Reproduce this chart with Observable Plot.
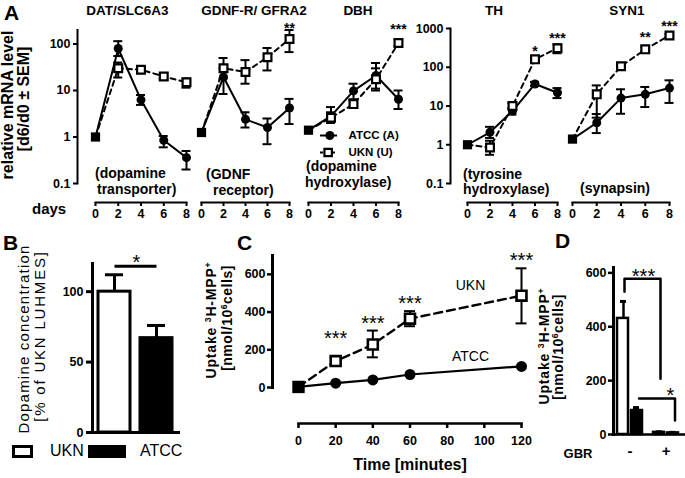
<!DOCTYPE html>
<html><head><meta charset="utf-8">
<script src="https://cdn.jsdelivr.net/npm/d3@7"></script>
<script src="https://cdn.jsdelivr.net/npm/@observablehq/plot@0.6"></script>
<style>
html,body{margin:0;padding:0;background:#fff;}
#fig{position:relative;width:685px;height:478px;overflow:hidden;background:#fff;color:#000;
 font-family:"Liberation Sans",Arial,Helvetica,sans-serif;}
#fig svg{position:absolute;left:0;top:0;background:transparent !important;overflow:visible;max-width:none !important;}
#fig .t{position:absolute;white-space:nowrap;line-height:1;transform-origin:0 0;}
#fig .box{position:absolute;box-sizing:border-box;}
</style></head>
<body><div id="fig"></div>
<script>
// ---------------- DATA ----------------
// Panel A: relative mRNA level (d/d0), days 0..8
const days = [0, 2, 4, 6, 8];
const genes = ["DAT/SLC6A3", "GDNF-R/ GFRA2", "DBH", "TH", "SYN1"];
const atccMean = [
  [1, 80, 6.3, 0.85, 0.36],
  [1.25, 19.5, 2.4, 1.6, 4.2],
  [1.4, 2.8, 9.8, 21, 6.5],
  [1, 2.1, 7.4, 37, 22],
  [1.4, 3.7, 16, 20, 29]
];
const atccLow = [
  [1, 55, 4.9, 0.6, 0.2],
  [1.25, 8.4, 1.6, 0.7, 1.9],
  [1.4, 2.1, 6.5, 11, 4],
  [1, 1.5, 6, 33, 16],
  [1.4, 2.0, 6.3, 9.4, 12]
];
const atccHigh = [
  [1, 115, 8, 1.05, 0.5],
  [1.25, 30, 3.4, 2.5, 6.6],
  [1.4, 4.4, 14, 39, 10],
  [1, 2.9, 9, 42, 29],
  [1.4, 6.2, 27, 31, 46]
];
const uknMean = [
  [1, 30, 28, 20, 15],
  [1.25, 30, 25, 52, 128],
  [1.4, 2.6, 5.1, 17.5, 105],
  [1, 0.85, 10, 160, 310],
  [1.4, 20, 106, 290, 660]
];
const uknLow = [
  [1, 19, 24, 18, 11.5],
  [1.25, 18, 14, 27, 67],
  [1.4, 2, 4.3, 10, 90],
  [1, 0.55, 8.5, 140, 230],
  [1.4, 5, 95, 240, 600]
];
const uknHigh = [
  [1, 40, 32, 22, 18],
  [1.25, 50, 45, 82, 200],
  [1.4, 3.4, 6, 30, 125],
  [1, 1.27, 12, 185, 390],
  [1.4, 34, 120, 345, 720]
];
const starGene = [1, 2, 3, 3, 4, 4];
const starDay = [8, 8, 6, 8, 6, 8];
const starText = ["**", "***", "*", "***", "**", "***"];
const legendKeys = ["ATCC (A)", "UKN (U)"];

// Panel B: dopamine concentration (% of UKN)
const bLines = ["UKN", "ATCC"];
const bValue = [100, 67];
const bHigh = [112, 76];
const bSig = [{a: "UKN", b: "ATCC", y: 118, text: "*"}];

// Panel C: uptake of 3H-MPP+ over time
const minutes = [0, 20, 40, 60, 120];
const cUknMean = [3, 140, 228, 365, 487];
const cUknLow = [3, 122, 160, 325, 340];
const cUknHigh = [3, 160, 302, 405, 632];
const cAtccMean = [3, 23, 40, 69, 112];
const cStars = ["", "***", "***", "***", "***"];

// Panel D: uptake with/without GBR
const dGroups = ["-", "+"];
const dUkn = [431, 8];
const dUknHigh = [494, 10];
const dAtcc = [89, 6];
const dAtccHigh = [100, 8];
const dBracket1 = [["-", 530], ["-", 578], ["+", 578], ["+", 207]];
const dBracket2 = [["-", 134], ["+", 134], ["+", 52]];
const dStars = [{g: "-", v: 578, text: "***"}, {g: "+", v: 134, text: "*"}];

// ---------------- HELPERS ----------------
const W = 685, H = 478;
const fig = document.getElementById("fig");
const FONT = '"Liberation Sans", Arial, Helvetica, sans-serif';
function layer(opts) {
  const svg = Plot.plot({width: W, height: H, style: {fontFamily: FONT, background: "transparent"}, ...opts});
  fig.appendChild(svg);
}
function label(html, x, y, o = {}) {
  const s = document.createElement("div");
  s.className = "t";
  s.innerHTML = html;
  s.style.fontSize = (o.size || 12) + "px";
  s.style.fontWeight = o.weight || "bold";
  if (o.spacing) s.style.letterSpacing = o.spacing + "px";
  s.style.left = x + "px";
  s.style.top = y + "px";
  const ax = o.anchor === "middle" ? "-50%" : o.anchor === "end" ? "-100%" : "0";
  s.style.transform = (o.rotate ? "rotate(-90deg) " : "") + `translate(${ax}, -0.8465em)`;
  fig.appendChild(s);
}
function box(x, y, w, h, css) {
  const b = document.createElement("div");
  b.className = "box";
  Object.assign(b.style, {left: x + "px", top: y + "px", width: w + "px", height: h + "px"}, css);
  fig.appendChild(b);
}
const sup = t => `<span style="font-size:0.62em;position:relative;top:-0.62em">${t}</span>`;
const axisFont = {fontSize: 12.5, fontWeight: "bold"};

// ---------------- PANEL A ----------------
const aLayout = [
  {x0: 95, x1: 186, axis: 77, dom: [0.1, 200], top: 29.5, ticks: [0.1, 1, 10, 100]},
  {x0: 201, x1: 289, dom: [0.1, 200], top: 29.5},
  {x0: 308, x1: 398, dom: [0.1, 200], top: 29.5},
  {x0: 467, x1: 557, axis: 450, dom: [0.1, 1000], top: 28, ticks: [0.1, 1, 10, 100, 1000]},
  {x0: 572, x1: 669, dom: [0.1, 1000], top: 28}
];
const aBottom = 183;
const starNudge = [2.5, -5, -1, -1.4, -4.4, -3]; // pixel offsets of the significance stars

genes.forEach((gene, i) => {
  const L = aLayout[i];
  const atcc = days.map((d, j) => ({day: d, mean: atccMean[i][j], lo: atccLow[i][j], hi: atccHigh[i][j]}));
  const ukn = days.map((d, j) => ({day: d, mean: uknMean[i][j], lo: uknLow[i][j], hi: uknHigh[i][j]}));
  const both = atcc.concat(ukn).filter(d => d.day > 0);
  const stars = starGene.map((g, k) => ({g, k, day: starDay[k], text: starText[k]}))
    .filter(s => s.g === i)
    .map(s => ({...s, hi: uknHigh[i][days.indexOf(s.day)]}));
  layer({
    marginLeft: L.axis ?? L.x0, marginRight: W - L.x1, marginTop: L.top, marginBottom: H - aBottom,
    x: {domain: [0, 8], range: [L.x0, L.x1], axis: null},
    y: {type: "log", domain: L.dom, range: [aBottom, L.top], axis: null},
    marks: [
      L.axis ? Plot.frame({anchor: "left", strokeWidth: 2}) : null,
      L.axis ? Plot.axisY({ticks: L.ticks, tickFormat: d => String(d), tickSize: 4, tickPadding: 3, strokeWidth: 2, label: null, ...axisFont}) : null,
      Plot.ruleX(both, {x: "day", y1: "lo", y2: "hi", strokeWidth: 2}),
      Plot.ruleY(both, {y: "hi", x1: "day", x2: "day", insetLeft: -4.5, insetRight: -4.5, strokeWidth: 2}),
      Plot.ruleY(both, {y: "lo", x1: "day", x2: "day", insetLeft: -4.5, insetRight: -4.5, strokeWidth: 2}),
      Plot.line(atcc, {x: "day", y: "mean", stroke: "black", strokeWidth: 2}),
      Plot.line(ukn, {x: "day", y: "mean", stroke: "black", strokeWidth: 2, strokeDasharray: "5,4"}),
      Plot.dot(atcc, {filter: d => d.day > 0, x: "day", y: "mean", r: 4.5, fill: "black"}),
      Plot.dot(ukn, {filter: d => d.day > 0, x: "day", y: "mean", symbol: "square", r: 4.4, fill: "white", stroke: "black", strokeWidth: 2.2}),
      Plot.dot(ukn, {filter: d => d.day === 0, x: "day", y: "mean", symbol: "square", r: 5.2, fill: "black"}),
      ...stars.map(s => Plot.text([s], {x: "day", y: "hi", text: "text", lineAnchor: "bottom", dy: starNudge[s.k], fontSize: 14, fontWeight: "bold"}))
    ]
  });
  // day axis
  layer({
    marginLeft: L.x0, marginRight: W - L.x1, marginTop: 190, marginBottom: H - 202,
    x: {domain: [0, 8], axis: null},
    marks: [
      Plot.frame({anchor: "bottom", strokeWidth: 2}),
      Plot.axisX({ticks: days, tickSize: 4, tickPadding: 3, strokeWidth: 2, label: null, ...axisFont})
    ]
  });
});

// legend (inside DBH panel)
layer({
  marginLeft: 0, marginRight: 0, marginTop: 0, marginBottom: 0,
  x: {domain: [0, 1], range: [320, 337], axis: null},
  y: {type: "point", domain: legendKeys, range: [135, 152], padding: 0, axis: null},
  marks: [
    Plot.ruleY([legendKeys[0]], {y: d => d, x1: 0, x2: 1, strokeWidth: 2}),
    Plot.ruleY([legendKeys[1]], {y: d => d, x1: 0, x2: 1, strokeWidth: 2, strokeDasharray: "3,3"}),
    Plot.dot([legendKeys[0]], {x: 0.55, y: d => d, r: 4.5, fill: "black"}),
    Plot.dot([legendKeys[1]], {x: 0.45, y: d => d, symbol: "square", r: 4.2, fill: "white", stroke: "black", strokeWidth: 2.2}),
    Plot.text(legendKeys, {x: 1, y: d => d, text: d => d, dx: 11, textAnchor: "start", fontSize: 11.5, fontWeight: "bold"})
  ]
});

// ---------------- PANEL B ----------------
const bRows = bLines.map((l, i) => ({line: l, value: bValue[i], hi: bHigh[i]}));
layer({
  marginLeft: 92, marginRight: W - 178, marginTop: 263, marginBottom: H - 432,
  x: {type: "band", domain: bLines, range: [92, 177], paddingInner: 0.25, paddingOuter: 0.125, axis: null},
  y: {domain: [0, 120], range: [432, 263], axis: null},
  marks: [
    Plot.ruleX(bRows, {x: "line", y1: "value", y2: "hi", strokeWidth: 3}),
    Plot.tickY(bRows, {x: "line", y: "hi", insetLeft: 7, insetRight: 7, strokeWidth: 3}),
    Plot.barY(bRows, {filter: d => d.line === "UKN", x: "line", y: "value", fill: "white", stroke: "black", strokeWidth: 3}),
    Plot.barY(bRows, {filter: d => d.line === "ATCC", x: "line", y: "value", fill: "black", stroke: "black", strokeWidth: 3}),
    Plot.frame({anchor: "left", strokeWidth: 3}),
    Plot.frame({anchor: "bottom", strokeWidth: 3}),
    Plot.axisY({ticks: [0, 50, 100], tickSize: 6, tickPadding: 3, strokeWidth: 3, label: null, ...axisFont}),
    Plot.link(bSig, {x1: "a", x2: "b", y1: "y", y2: "y", strokeWidth: 3}),
    Plot.text(bSig, {x: "a", y: "y", text: "text", dx: 22, dy: 3, lineAnchor: "bottom", fontSize: 20})
  ]
});

// ---------------- PANEL C ----------------
const cU = minutes.map((m, i) => ({t: m, mean: cUknMean[i], lo: cUknLow[i], hi: cUknHigh[i], star: cStars[i], name: "UKN"}));
const cA = minutes.map((m, i) => ({t: m, mean: cAtccMean[i], name: "ATCC"}));
layer({
  marginLeft: 272, marginRight: W - 525, marginTop: 255, marginBottom: H - 387,
  x: {domain: [0, 120], range: [298, 521], axis: null},
  y: {domain: [0, 700], range: [387, 255], axis: null},
  marks: [
    Plot.frame({anchor: "left", strokeWidth: 3}),
    Plot.axisY({ticks: [0, 200, 400, 600], tickSize: 5, tickPadding: 2, strokeWidth: 2.5, label: null, ...axisFont}),
    Plot.ruleX(cU.filter(d => d.t > 0), {x: "t", y1: "lo", y2: "hi", strokeWidth: 2}),
    Plot.ruleY(cU.filter(d => d.t > 0), {y: "hi", x1: "t", x2: "t", insetLeft: -5.5, insetRight: -5.5, strokeWidth: 2}),
    Plot.ruleY(cU.filter(d => d.t > 0), {y: "lo", x1: "t", x2: "t", insetLeft: -5.5, insetRight: -5.5, strokeWidth: 2}),
    Plot.line(cA, {x: "t", y: "mean", strokeWidth: 2.2}),
    Plot.line(cU, {x: "t", y: "mean", strokeWidth: 2.4, strokeDasharray: "8,5"}),
    Plot.dot(cA, {filter: d => d.t > 0, x: "t", y: "mean", r: 5.5, fill: "black"}),
    Plot.dot(cU, {filter: d => d.t > 0, x: "t", y: "mean", symbol: "square", r: 5.6, fill: "white", stroke: "black", strokeWidth: 2.6}),
    Plot.dot(cU, {filter: d => d.t === 0, x: "t", y: "mean", symbol: "square", r: 7, fill: "black"}),
    Plot.text(cU.filter(d => d.star && d.t !== 20), {x: "t", y: "hi", text: "star", lineAnchor: "bottom", dy: -1, fontSize: 20}),
    Plot.text(cU.filter(d => d.star && d.t === 20), {x: "t", y: "hi", text: "star", lineAnchor: "bottom", dy: -12, fontSize: 20}),
    Plot.text([cU[cU.length - 1], cA[cA.length - 1]], {x: "t", y: "mean", text: "name", dx: -51, dy: -10, fontSize: 14})
  ]
});
layer({
  marginLeft: 298, marginRight: W - 521, marginTop: 400, marginBottom: H - 423,
  x: {domain: [0, 120], axis: null},
  marks: [
    Plot.frame({anchor: "bottom", strokeWidth: 2.5}),
    Plot.axisX({ticks: d3.range(0, 121, 20), tickSize: 5, tickPadding: 8, strokeWidth: 2.5, label: null, ...axisFont})
  ]
});

// ---------------- PANEL D ----------------
const dRows = dGroups.map((g, i) => ({g, ukn: dUkn[i], uknHi: dUknHigh[i], atcc: dAtcc[i], atccHi: dAtccHigh[i]}));
const toPts = arr => arr.map(([g, v]) => ({g, v}));
layer({
  marginLeft: 613, marginRight: W - 684, marginTop: 267, marginBottom: H - 434,
  x: {type: "band", domain: dGroups, range: [609.8, 685.2], paddingInner: 0.306, paddingOuter: 0.2, axis: null},
  y: {domain: [0, 620], range: [434, 267], axis: null},
  marks: [
    Plot.ruleX(dRows, {x: "g", y1: "ukn", y2: "uknHi", dx: -6.5, strokeWidth: 2.5}),
    Plot.tickY(dRows, {x: "g", y: "uknHi", insetLeft: 3, insetRight: 16, strokeWidth: 3}),
    Plot.ruleX(dRows, {x: "g", y1: "atcc", y2: "atccHi", dx: 6.5, strokeWidth: 2.5}),
    Plot.tickY(dRows, {x: "g", y: "atccHi", insetLeft: 16, insetRight: 3, strokeWidth: 3}),
    Plot.barY(dRows, {x: "g", y: "ukn", insetRight: 14, fill: "white", stroke: "black", strokeWidth: 2.5}),
    Plot.barY(dRows, {x: "g", y: "atcc", insetLeft: 14, fill: "black", stroke: "black", strokeWidth: 2.5}),
    Plot.frame({anchor: "left", strokeWidth: 3}),
    Plot.frame({anchor: "bottom", strokeWidth: 2.5}),
    Plot.axisY({ticks: [0, 200, 400, 600], tickSize: 5, tickPadding: 2, strokeWidth: 2.5, label: null, ...axisFont}),
    Plot.axisX({tickSize: 0, tickPadding: 11, label: null, fontSize: 15, fontWeight: "bold"}),
    Plot.line(toPts(dBracket1), {x: "g", y: "v", dx: -5.5, strokeWidth: 2.5}),
    Plot.line(toPts(dBracket2), {x: "g", y: "v", dx: 9, strokeWidth: 2.5}),
    Plot.text(dStars.slice(0, 1), {x: "g", y: "v", text: "text", dx: 13.5, dy: 4, lineAnchor: "bottom", fontSize: 20}),
    Plot.text(dStars.slice(1), {x: "g", y: "v", text: "text", dx: 4.5, dy: 4, lineAnchor: "bottom", fontSize: 20})
  ]
});

// ---------------- TEXT ----------------
label("A", 4, 20, {size: 21});
label("B", 3, 250, {size: 21});
label("C", 237, 250, {size: 21});
label("D", 555, 248, {size: 21});
[[127.5, 0], [254, 1], [358, 2], [494, 3], [627, 4]].forEach(([x, i]) => label(genes[i], x, 15, {size: 13.5, anchor: "middle"}));
[["(dopamine", 95, 178], ["transporter)", 97, 194], ["(GDNF", 206, 179], ["receptor)", 213, 195],
 ["(dopamine", 306, 171], ["hydroxylase)", 305, 187], ["(tyrosine", 463, 179], ["hydroxylase)", 463, 194],
 ["(synapsin)", 580, 193]].forEach(([t, x, y]) => label(t, x, y, {size: 14}));
label("days", 32, 214, {size: 15});
label("relative mRNA level", 14, 105, {size: 16, rotate: true, anchor: "middle"});
label("[d6/d0 ± SEM]", 30, 99, {size: 16, rotate: true, anchor: "middle"});
// B
label("Dopamine concentration", 29, 339, {size: 15, weight: "normal", rotate: true, anchor: "middle", spacing: 1.2});
label("[% of UKN LUHMES]", 45, 336, {size: 15, weight: "normal", rotate: true, anchor: "middle", spacing: 1.8});
box(12, 445, 21, 13, {border: "3px solid #000", background: "#fff"});
box(88, 445, 38, 13, {background: "#000"});
label("UKN", 50, 457, {size: 16, weight: "normal"});
label("ATCC", 140, 457, {size: 16, weight: "normal"});
// C
label(`Uptake ${sup("3")}H-MPP${sup("+")}`, 216, 320, {size: 14, rotate: true, anchor: "middle", spacing: 0.8});
label(`[nmol/10${sup("6")}cells]`, 232, 318, {size: 14, rotate: true, anchor: "middle", spacing: 0.5});
label("Time [minutes]", 410, 471, {size: 16, anchor: "middle"});
// D
label(`Uptake ${sup("3")}H-MPP${sup("+")}`, 549, 346, {size: 14, rotate: true, anchor: "middle", spacing: 0.8});
label(`[nmol/10${sup("6")}cells]`, 563, 347, {size: 14, rotate: true, anchor: "middle", spacing: 0.5});
label("GBR", 578, 458, {size: 13, anchor: "middle"});
</script>
</body></html>
